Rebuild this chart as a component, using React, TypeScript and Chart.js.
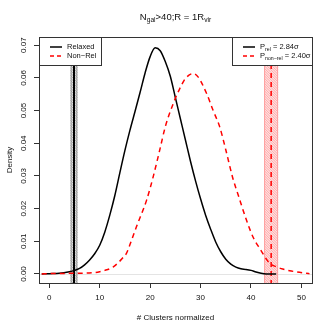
import React, { useEffect, useRef } from "react";
import { Chart, registerables } from "chart.js";
Chart.register(...registerables);

const FONT = "'Liberation Sans', Arial, sans-serif";

const relaxedX = [-1.5, 0, 2, 4, 5, 6, 7, 8, 9, 10, 11, 12, 13, 14, 15, 16, 17, 18, 19, 20, 21, 22, 23, 24, 25, 26, 27, 28, 29, 30, 31, 32, 33, 34, 35, 36, 37, 38, 39, 40, 41, 42, 43, 45];
const relaxedY = [0.0, 0.0001, 0.0002, 0.0007, 0.0011, 0.0017, 0.0028, 0.0043, 0.0062, 0.0088, 0.0128, 0.018, 0.024, 0.031, 0.0378, 0.044, 0.0497, 0.0555, 0.0615, 0.0665, 0.0692, 0.0683, 0.065, 0.0605, 0.054, 0.0475, 0.041, 0.0345, 0.0285, 0.023, 0.018, 0.0137, 0.0098, 0.0068, 0.0045, 0.003, 0.0021, 0.0016, 0.0014, 0.0011, 0.0006, 0.0002, 0.0, 0.0];

const nonRelX = [-1.5, 0, 4, 8.7, 10, 11, 12, 12.7, 13.5, 14.5, 15.3, 16, 17.3, 19.3, 20.6, 21.9, 23, 24.6, 25.9, 27, 28.5, 29.5, 31.2, 32.5, 33.8, 35, 36.4, 37.5, 39.1, 40.5, 41.7, 43.7, 45, 46.3, 48, 51, 51.6];
const nonRelY = [0.0, 0.0001, 0.0002, 0.0004, 0.0007, 0.0011, 0.0016, 0.0022, 0.0032, 0.0048, 0.0063, 0.009, 0.0145, 0.0226, 0.0297, 0.0379, 0.045, 0.0522, 0.0568, 0.0598, 0.0613, 0.0603, 0.0552, 0.05, 0.045, 0.038, 0.0293, 0.024, 0.0165, 0.011, 0.0079, 0.0033, 0.0022, 0.0015, 0.0009, 0.0002, 0.0001];

const xTicks = [0, 10, 20, 30, 40, 50];
const yTicks = [0, 0.01, 0.02, 0.03, 0.04, 0.05, 0.06, 0.07];
const yTickLabels = ["0.00", "0.01", "0.02", "0.03", "0.04", "0.05", "0.06", "0.07"];

const relBand = [4.2, 5.6];
const relLineX = 4.9;
const nonRelBand = [42.6, 45.4];
const nonRelLineX = 44.0;

const legendLeft = ["Relaxed", "Non\u2212Rel"];
const pRel = "2.84";
const pNonRel = "2.40";

type Part = { t: string; sub?: boolean };

function drawRich(ctx: CanvasRenderingContext2D, parts: Part[], x: number, y: number, size: number, align: "left" | "center") {
  const widths = parts.map((p) => {
    ctx.font = `${p.sub ? size * 0.7 : size}px ${FONT}`;
    return ctx.measureText(p.t).width;
  });
  const total = widths.reduce((a, b) => a + b, 0);
  let cx = align === "center" ? x - total / 2 : x;
  ctx.textAlign = "left";
  ctx.textBaseline = "middle";
  parts.forEach((p, i) => {
    ctx.font = `${p.sub ? size * 0.7 : size}px ${FONT}`;
    ctx.fillText(p.t, cx, p.sub ? y + size * 0.3 : y);
    cx += widths[i];
  });
}

function drawBand(ctx: CanvasRenderingContext2D, x0: number, x1: number, top: number, bottom: number, fill: string, hatch: string, border: string) {
  ctx.save();
  ctx.beginPath();
  ctx.rect(x0, top, x1 - x0, bottom - top);
  ctx.clip();
  ctx.fillStyle = fill;
  ctx.fillRect(x0, top, x1 - x0, bottom - top);
  ctx.strokeStyle = hatch;
  ctx.lineWidth = 0.8;
  const h = bottom - top;
  ctx.beginPath();
  for (let k = -h; k < x1 - x0 + 2; k += 2.5) {
    ctx.moveTo(x0 + k, top);
    ctx.lineTo(x0 + k + h, bottom);
  }
  ctx.stroke();
  ctx.strokeStyle = border;
  ctx.lineWidth = 1;
  ctx.strokeRect(x0 + 0.5, top - 1, x1 - x0 - 1, bottom - top + 2);
  ctx.restore();
}

const rPlugin = {
  id: "rstyle",
  beforeDatasetsDraw(chart: any) {
    const { ctx, chartArea: ca, scales } = chart;
    const xs = scales.x;
    const ys = scales.y;
    ctx.save();
    ctx.beginPath();
    ctx.rect(ca.left, ca.top, ca.right - ca.left, ca.bottom - ca.top);
    ctx.clip();
    const y0 = Math.round(ys.getPixelForValue(0)) + 0.5;
    ctx.strokeStyle = "#e4e4e4";
    ctx.lineWidth = 1;
    ctx.beginPath();
    ctx.moveTo(ca.left, y0);
    ctx.lineTo(ca.right, y0);
    ctx.stroke();
    drawBand(ctx, xs.getPixelForValue(relBand[0]), xs.getPixelForValue(relBand[1]), ca.top, ca.bottom, "#e2e2e2", "#9a9a9a", "#8a8a8a");
    drawBand(ctx, xs.getPixelForValue(nonRelBand[0]), xs.getPixelForValue(nonRelBand[1]), ca.top, ca.bottom, "#ffe0e0", "#ff9a9a", "#ff9a9a");
    ctx.strokeStyle = "#000";
    ctx.lineWidth = 2;
    const lx = xs.getPixelForValue(relLineX);
    ctx.beginPath();
    ctx.moveTo(lx, ca.top);
    ctx.lineTo(lx, ca.bottom);
    ctx.stroke();
    ctx.strokeStyle = "#ff0000";
    ctx.lineWidth = 1.5;
    ctx.setLineDash([5, 4]);
    const rx = xs.getPixelForValue(nonRelLineX);
    ctx.beginPath();
    ctx.moveTo(rx, ca.top);
    ctx.lineTo(rx, ca.bottom);
    ctx.stroke();
    ctx.restore();
  },
  afterDatasetsDraw(chart: any) {
    const { ctx, chartArea: ca, scales } = chart;
    const ys = scales.y;
    ctx.save();
    ctx.strokeStyle = "#333";
    ctx.lineWidth = 1;
    ctx.strokeRect(Math.round(ca.left) + 0.5, Math.round(ca.top) + 0.5, Math.round(ca.right - ca.left), Math.round(ca.bottom - ca.top));

    const lgTop = Math.round(ca.top) + 0.5;
    const lgBot = 65.5;
    ctx.fillStyle = "#fff";
    ctx.fillRect(ca.left + 0.5, lgTop, 101 - ca.left, lgBot - lgTop);
    ctx.strokeRect(Math.round(ca.left) + 0.5, lgTop, 101 - Math.round(ca.left), lgBot - lgTop);
    const row1 = 47;
    const row2 = 56;
    ctx.lineWidth = 1.5;
    ctx.strokeStyle = "#000";
    ctx.beginPath();
    ctx.moveTo(50, row1);
    ctx.lineTo(62, row1);
    ctx.stroke();
    ctx.strokeStyle = "#ff0000";
    ctx.setLineDash([4, 3]);
    ctx.beginPath();
    ctx.moveTo(50, row2);
    ctx.lineTo(62, row2);
    ctx.stroke();
    ctx.setLineDash([]);
    ctx.fillStyle = "#111";
    ctx.font = `7.5px ${FONT}`;
    ctx.textAlign = "left";
    ctx.textBaseline = "middle";
    ctx.fillText(legendLeft[0], 67, row1);
    ctx.fillText(legendLeft[1], 67, row2);

    const rl = 232.5;
    const rr = Math.round(ca.right) + 0.5;
    ctx.fillStyle = "#fff";
    ctx.fillRect(rl, lgTop, rr - rl, lgBot - lgTop);
    ctx.lineWidth = 1;
    ctx.strokeStyle = "#333";
    ctx.strokeRect(rl, lgTop, rr - rl, lgBot - lgTop);
    ctx.lineWidth = 1.5;
    ctx.strokeStyle = "#000";
    ctx.beginPath();
    ctx.moveTo(243, row1);
    ctx.lineTo(255, row1);
    ctx.stroke();
    ctx.strokeStyle = "#ff0000";
    ctx.setLineDash([4, 3]);
    ctx.beginPath();
    ctx.moveTo(243, row2);
    ctx.lineTo(255, row2);
    ctx.stroke();
    ctx.setLineDash([]);
    ctx.fillStyle = "#111";
    drawRich(ctx, [{ t: "P" }, { t: "rel", sub: true }, { t: ` = ${pRel}\u03c3` }], 260, row1, 7.5, "left");
    drawRich(ctx, [{ t: "P" }, { t: "non\u2212rel", sub: true }, { t: ` = ${pNonRel}\u03c3` }], 260, row2, 7.5, "left");

    ctx.font = `8px ${FONT}`;
    ctx.textAlign = "center";
    ctx.textBaseline = "middle";
    yTicks.forEach((v, i) => {
      const py = ys.getPixelForValue(v);
      ctx.save();
      ctx.translate(24, py);
      ctx.rotate(-Math.PI / 2);
      ctx.fillText(yTickLabels[i], 0, 0);
      ctx.restore();
    });

    ctx.font = `8px ${FONT}`;
    const cx = (ca.left + ca.right) / 2;
    ctx.fillText("# Clusters normalized", cx, 318);
    ctx.save();
    ctx.translate(10, (ca.top + ca.bottom) / 2);
    ctx.rotate(-Math.PI / 2);
    ctx.fillText("Density", 0, 0);
    ctx.restore();

    drawRich(ctx, [{ t: "N" }, { t: "gal", sub: true }, { t: ">40;R = 1R" }, { t: "vir", sub: true }], cx, 17, 9.5, "center");
    ctx.restore();
  },
};

export default function App() {
  const ref = useRef<HTMLCanvasElement | null>(null);
  useEffect(() => {
    if (!ref.current) return;
    const chart = new Chart(ref.current, {
      type: "line",
      data: {
        datasets: [
          {
            label: "Non-Rel",
            data: nonRelX.map((x, i) => ({ x, y: nonRelY[i] })),
            borderColor: "#ff0000",
            borderWidth: 1.5,
            borderDash: [5, 4],
            pointRadius: 0,
            fill: false,
            cubicInterpolationMode: "monotone",
            order: 0,
          },
          {
            label: "Relaxed",
            data: relaxedX.map((x, i) => ({ x, y: relaxedY[i] })),
            borderColor: "#000000",
            borderWidth: 1.5,
            pointRadius: 0,
            fill: false,
            cubicInterpolationMode: "monotone",
            order: 1,
          },
        ],
      },
      options: {
        animation: false,
        responsive: false,
        devicePixelRatio: 1,
        events: [],
        layout: { padding: { top: 37, right: 20, left: 0, bottom: 0 } },
        plugins: { legend: { display: false }, tooltip: { enabled: false }, title: { display: false } },
        scales: {
          x: {
            type: "linear",
            min: -2.04,
            max: 52.1,
            afterBuildTicks: (s: any) => {
              s.ticks = xTicks.map((v) => ({ value: v }));
            },
            afterFit: (s: any) => {
              s.height = 49;
            },
            grid: { drawOnChartArea: false, drawTicks: true, tickLength: 5, color: "#333" },
            border: { display: false },
            ticks: {
              font: { family: FONT, size: 8 },
              color: "#111",
              padding: 5,
              maxRotation: 0,
              autoSkip: false,
            },
          },
          y: {
            type: "linear",
            min: -0.00276,
            max: 0.0725,
            afterBuildTicks: (s: any) => {
              s.ticks = yTicks.map((v) => ({ value: v }));
            },
            afterFit: (s: any) => {
              s.width = 39;
            },
            grid: { drawOnChartArea: false, drawTicks: true, tickLength: 5, color: "#333" },
            border: { display: false },
            ticks: { display: false },
          },
        },
      },
      plugins: [rPlugin],
    } as any);
    return () => chart.destroy();
  }, []);
  return (
    <div style={{ position: "fixed", left: 0, top: 0, width: 332, height: 332, background: "#fff" }}>
      <canvas ref={ref} width={332} height={332} style={{ width: 332, height: 332 }} />
    </div>
  );
}
